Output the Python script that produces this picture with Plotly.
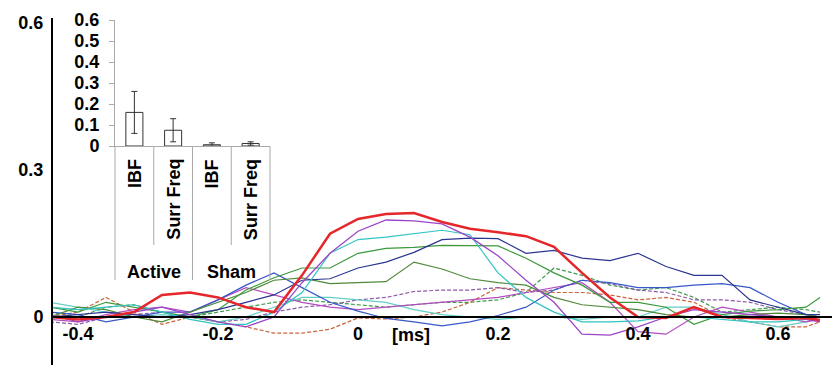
import plotly.graph_objects as go

# ---------------- data ----------------
time_ms = [-0.44, -0.40, -0.36, -0.32, -0.28, -0.24, -0.20, -0.16, -0.12, -0.08,
           -0.04, 0.00, 0.04, 0.08, 0.12, 0.16, 0.20, 0.24, 0.28, 0.32,
           0.36, 0.40, 0.44, 0.48, 0.52, 0.56, 0.60, 0.64, 0.66]

red = [0.0, -0.005, 0.0, 0.01, 0.045, 0.05, 0.04, 0.02, 0.01, 0.085, 0.17, 0.2, 0.21, 0.212,
       0.194, 0.18, 0.173, 0.165, 0.143, 0.09, 0.04, 0.0, -0.002, 0.02, 0.0, -0.002, -0.004, -0.002, -0.006]
violet = [0.005, -0.01, 0.0, 0.01, 0.02, 0.005, -0.01, -0.02, 0.0, 0.07, 0.13, 0.175, 0.198, 0.196,
          0.19, 0.163, 0.125, 0.075, 0.03, -0.035, -0.037, -0.02, 0.0, 0.015, 0.01, 0.005, 0.0, -0.005, -0.01]
cyan = [0.02, 0.015, 0.02, 0.025, 0.01, -0.005, -0.015, -0.015, 0.01, 0.05, 0.13, 0.158, 0.163, 0.17,
        0.177, 0.168, 0.09, 0.04, 0.01, -0.01, -0.01, -0.008, 0.0, 0.0, -0.005, -0.01, -0.01, -0.005, 0.0]
cyan_light = [0.03, 0.02, 0.01, 0.0, 0.005, 0.0, -0.01, 0.0, 0.02, 0.04, 0.04, 0.035, 0.03, 0.015,
              0.005, 0.0, -0.005, 0.0, 0.0, -0.005, 0.0, 0.0, 0.02, 0.02, 0.005, -0.01, -0.02, -0.01, 0.0]
navy = [0.0, 0.005, 0.01, 0.005, 0.0, 0.005, 0.015, 0.03, 0.045, 0.075, 0.078, 0.1, 0.112, 0.132,
        0.158, 0.161, 0.16, 0.13, 0.136, 0.12, 0.115, 0.13, 0.103, 0.085, 0.085, 0.035, 0.02, 0.005, 0.005]
green = [0.02, 0.01, 0.03, 0.02, 0.01, 0.0, 0.015, 0.055, 0.08, 0.1, 0.1, 0.13, 0.14, 0.142,
         0.146, 0.145, 0.145, 0.12, 0.09, 0.065, 0.03, 0.03, 0.02, -0.015, 0.005, 0.012, 0.015, 0.02, 0.04]
green_dark = [0.0, 0.02, 0.015, 0.0, -0.01, 0.01, 0.03, 0.05, 0.075, 0.08, 0.068, 0.07, 0.072, 0.112,
              0.098, 0.078, 0.07, 0.065, 0.04, 0.025, 0.02, 0.015, 0.005, 0.0, 0.0, 0.005, 0.008, 0.005, 0.0]
green_dash = [0.01, 0.0, 0.02, 0.025, 0.01, 0.0, 0.01, 0.02, 0.03, 0.035, 0.03, 0.025, 0.02, 0.025,
              0.03, 0.03, 0.035, 0.05, 0.1, 0.085, 0.065, 0.055, 0.06, 0.04, 0.01, 0.015, 0.02, 0.015, 0.01]
brown_dash = [0.0, 0.01, 0.04, 0.01, -0.015, 0.0, -0.01, -0.02, -0.033, -0.033, -0.025, -0.002, -0.004, 0.0,
              0.01, 0.03, 0.06, 0.055, 0.05, 0.05, 0.045, 0.035, 0.04, 0.03, 0.0, -0.01, -0.02, -0.02, -0.01]
purple_dash = [-0.01, -0.015, 0.0, 0.005, 0.01, 0.0, -0.01, -0.005, 0.01, 0.02, 0.025, 0.035, 0.04, 0.052,
               0.055, 0.055, 0.06, 0.05, 0.055, 0.075, 0.068, 0.055, 0.05, 0.035, 0.035, 0.03, 0.015, 0.005, 0.0]
blue = [0.01, 0.005, -0.01, 0.0, 0.01, 0.01, 0.035, 0.065, 0.09, 0.06, 0.03, 0.012, -0.003, -0.01,
        -0.018, -0.01, 0.003, 0.02, 0.055, 0.075, 0.07, 0.06, 0.06, 0.065, 0.068, 0.06, 0.03, 0.005, 0.0]
purple = [-0.005, -0.01, 0.005, 0.015, 0.02, 0.01, 0.035, 0.06, 0.045, 0.03, 0.02, 0.015, 0.02, 0.025,
          0.03, 0.035, 0.04, 0.05, 0.06, 0.07, 0.03, -0.03, -0.035, 0.0, 0.02, 0.01, 0.0, -0.01, -0.005]

x_ticks = [-0.4, -0.2, 0, 0.2, 0.4, 0.6]
x_ticklabels = ["-0.4", "-0.2", "0", "0.2", "0.4", "0.6"]
y_ticks = [0, 0.3, 0.6]
y_ticklabels = ["0", "0.3", "0.6"]

# inset bar chart
inset_pos = [0, 1, 2, 3]
inset_cats = ["IBF", "Surr Freq", "IBF", "Surr Freq"]
inset_groups = ["Active", "Sham"]
inset_vals = [0.16, 0.075, 0.006, 0.012]
inset_err = [0.1, 0.055, 0.009, 0.008]
inset_ticks = [0, 0.1, 0.2, 0.3, 0.4, 0.5, 0.6]
inset_ticklabels = ["0", "0.1", "0.2", "0.3", "0.4", "0.5", "0.6"]

# ---------------- figure ----------------
FONT = "Arial, 'Liberation Sans', sans-serif"
fig = go.Figure()

series = [
    (green_dash, "#3f9a4f", "4px,2px", 1.2),
    (brown_dash, "#c8643c", "4px,2px", 1.2),
    (purple_dash, "#8a5aa8", "4px,2px", 1.2),
    (cyan_light, "#62cfc6", None, 1.2),
    (purple, "#b44cc0", None, 1.2),
    (blue, "#3858c8", None, 1.2),
    (green_dark, "#4f8a3a", None, 1.2),
    (green, "#3c9a3c", None, 1.2),
    (navy, "#2b3590", None, 1.2),
    (cyan, "#33c4c4", None, 1.2),
    (violet, "#9b45c8", None, 1.3),
    (red, "#e5262b", None, 2.5),
]
for vals, col, dash, w in series:
    fig.add_trace(go.Scatter(
        x=time_ms, y=vals, mode="lines",
        line=dict(color=col, width=w, dash=dash),
        xaxis="x", yaxis="y", showlegend=False, hoverinfo="skip"))

fig.add_trace(go.Bar(
    x=inset_pos, y=inset_vals, width=0.44,
    marker=dict(color="white", line=dict(color="#333333", width=1)),
    error_y=dict(type="data", array=inset_err, color="#333333", thickness=1, width=3),
    xaxis="x2", yaxis="y2", showlegend=False, hoverinfo="skip"))

W, H = 832, 365
ML, MT = 53, 18
PW, PH = W - ML, H - MT


def px_x(p):  # pixel x -> paper fraction
    return (p - ML) / PW


def px_y(p):  # pixel y -> paper fraction
    return (H - p) / PH


annotations = []
# inset category labels
for pos, cat in zip(inset_pos, inset_cats):
    annotations.append(dict(
        x=pos, y=px_y(157), xref="x2", yref="paper", text=cat, textangle=-90,
        showarrow=False, xanchor="center", yanchor="top",
        font=dict(family=FONT, size=18, color="black", weight="bold")))
for i, grp in enumerate(inset_groups):
    annotations.append(dict(
        x=0.5 + 2 * i, y=px_y(272), xref="x2", yref="paper", text=grp,
        showarrow=False, xanchor="center", yanchor="middle",
        font=dict(family=FONT, size=18, color="black", weight="bold")))
annotations.append(dict(
    x=0.076, y=-0.037, xref="x", yref="y", text="[ms]", showarrow=False,
    xanchor="center", yanchor="middle",
    font=dict(family=FONT, size=18, color="black", weight="bold")))

shapes = []
for frac, bottom in [(0, 280), (0.25, 245), (0.5, 280), (0.75, 245), (1, 280)]:
    shapes.append(dict(
        type="line", xref="x2 domain", yref="paper",
        x0=frac, x1=frac, y0=px_y(146), y1=px_y(bottom),
        line=dict(color="#aaaaaa", width=1)))

fig.update_layout(
    template="none",
    width=W, height=H,
    margin=dict(l=ML, r=0, t=MT, b=0, autoexpand=False),
    paper_bgcolor="white", plot_bgcolor="rgba(0,0,0,0)",
    showlegend=False,
    font=dict(family=FONT, size=18, color="black"),
    xaxis=dict(
        range=[(ML - 358) / 700, (W - 358) / 700],
        anchor="free", position=(H - 317) / PH, automargin=False,
        showline=True, linecolor="black", linewidth=2,
        showgrid=False, zeroline=False, ticks="",
        tickvals=x_ticks, ticktext=x_ticklabels,
        tickfont=dict(family=FONT, size=18, color="black", weight="bold"),
        fixedrange=True),
    yaxis=dict(
        range=[(317 - H) / 490, (317 - MT) / 490], automargin=False,
        showline=True, linecolor="black", linewidth=2,
        showgrid=False, zeroline=False, ticks="", ticklabelstandoff=4,
        tickvals=y_ticks, ticktext=y_ticklabels,
        tickfont=dict(family=FONT, size=18, color="black", weight="bold"),
        fixedrange=True),
    xaxis2=dict(
        domain=[px_x(115), px_x(270)], range=[-0.5, 3.5], anchor="y2", automargin=False,
        showline=True, linecolor="#aaaaaa", linewidth=1,
        showgrid=False, zeroline=False, showticklabels=False, ticks=""),
    yaxis2=dict(
        domain=[px_y(146), px_y(20)], range=[0, 0.6], anchor="x2", automargin=False,
        showline=True, linecolor="#aaaaaa", linewidth=1,
        showgrid=False, zeroline=False,
        ticks="outside", ticklen=5, tickcolor="#aaaaaa", ticklabelstandoff=6,
        tickvals=inset_ticks, ticktext=inset_ticklabels,
        tickfont=dict(family=FONT, size=18, color="black", weight="bold")),
    annotations=annotations,
    shapes=shapes,
)

fig.write_html("out.html")
